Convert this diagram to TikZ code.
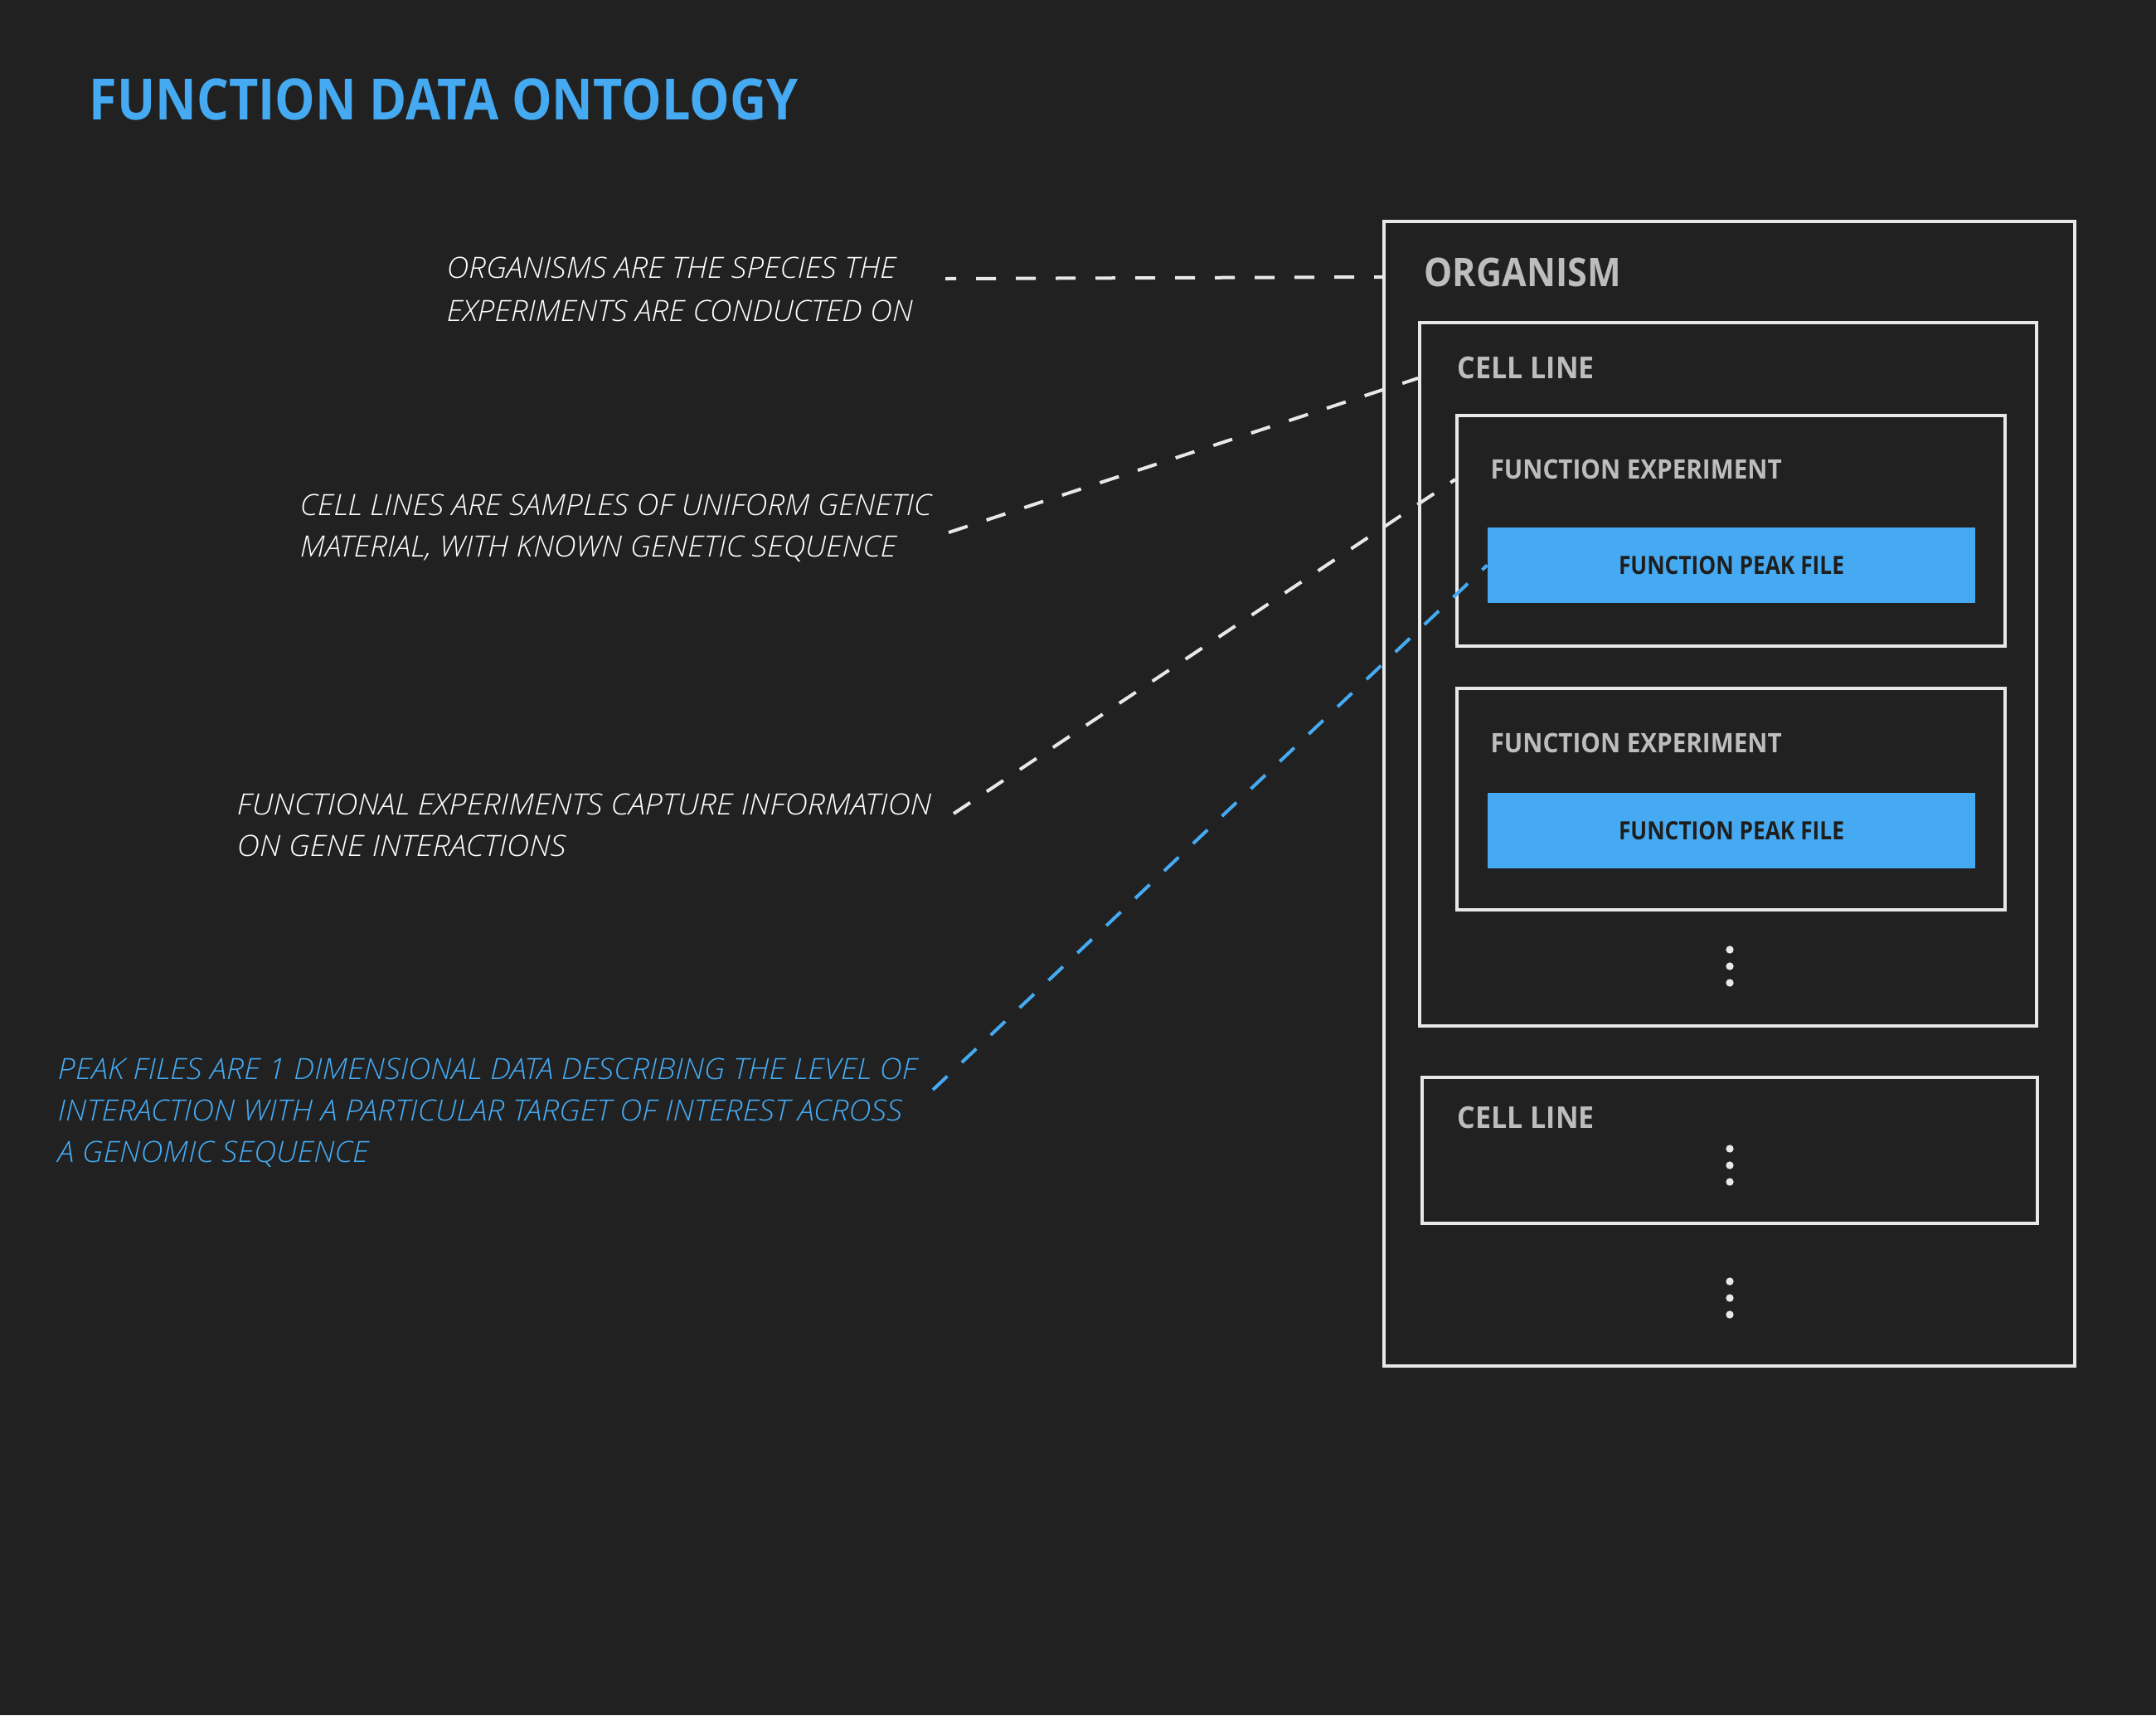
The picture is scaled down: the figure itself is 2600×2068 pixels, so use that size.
\documentclass[tikz,border=0pt]{standalone}
\usepackage{fontspec}
\usepackage{graphicx}
\setmainfont{Open Sans}
\newfontfamily\descfont{Open Sans}[ItalicFont={Open Sans Light Italic}]
\usetikzlibrary{fit,calc}
\definecolor{bgc}{HTML}{212121}
\definecolor{linec}{HTML}{E8E8E8}
\definecolor{lblc}{HTML}{BDBDBD}
\definecolor{txtc}{HTML}{FFFFFF}
\definecolor{bluec}{HTML}{45AAF2}
\definecolor{darkc}{HTML}{1E1E1E}
\newsavebox\fitbox
\newlength\fitl
\newcommand\fitw[2]{\sbox\fitbox{#2}\fitl=\wd\fitbox\pgfmathsetmacro\fitf{#1*0.3/\fitl}\scalebox{\fitf}[1]{\usebox\fitbox}}
\tikzset{
  boxs/.style={draw=linec, line width=1.2pt, inner sep=0pt},
  peaks/.style={fill=bluec, inner sep=0pt},
  desc/.style={anchor=base west, inner sep=0pt, text=txtc},
  lbl/.style={anchor=base west, inner sep=0pt, text=lblc},
  conn/.style={line width=1.2pt, dash pattern=on 7.2pt off 7.2pt},
}
\begin{document}
\begin{tikzpicture}[x=0.3pt, y=-0.3pt]
\useasboundingbox (0,0) rectangle (2600,2068);
\fill[bgc] (0,0) rectangle (2600,2068);

% title
\node[anchor=base west, inner sep=0pt, text=bluec, font=\fontsize{20.6}{24}\selectfont\bfseries] (title) at (107,144) {\fitw{855}{FUNCTION DATA ONTOLOGY}};

% boxes
\node[boxs, fit={(1669,267) (2502,1647)}] (org) {};
\node[boxs, fit={(1712,389) (2456,1237)}] (cl1) {};
\node[boxs, fit={(1757,501) (2418,779)}] (fe1) {};
\node[boxs, fit={(1757,830) (2418,1097)}] (fe2) {};
\node[boxs, fit={(1715,1299) (2457,1475)}] (cl2) {};
\node[peaks, fit={(1794,636) (2382,727)}] (pk1) {};
\node[peaks, fit={(1794,956) (2382,1047)}] (pk2) {};

% box labels
\node[lbl, font=\fontsize{14.3}{17}\selectfont\bfseries] (orgl) at (1717,345) {\fitw{237}{ORGANISM}};
\node[lbl, font=\fontsize{10.9}{13}\selectfont\bfseries] (cl1l) at (1757,456) {\fitw{165}{CELL LINE}};
\node[lbl, font=\fontsize{9.7}{12}\selectfont\bfseries] (fe1l) at (1797,577) {\fitw{351}{FUNCTION EXPERIMENT}};
\node[lbl, font=\fontsize{9.7}{12}\selectfont\bfseries] (fe2l) at (1797,907) {\fitw{351}{FUNCTION EXPERIMENT}};
\node[lbl, font=\fontsize{10.9}{13}\selectfont\bfseries] (cl2l) at (1757,1360) {\fitw{165}{CELL LINE}};
\node[inner sep=0pt, text=darkc, font=\fontsize{9.1}{11}\selectfont\bfseries] (pk1l) at (pk1.center) {\fitw{272}{FUNCTION PEAK FILE}};
\node[inner sep=0pt, text=darkc, font=\fontsize{9.1}{11}\selectfont\bfseries] (pk2l) at (pk2.center) {\fitw{272}{FUNCTION PEAK FILE}};

% ellipses
\foreach \yy in {1145,1165,1185,1385,1405,1425,1545,1565,1585}
  \fill[linec] (2086,\yy) circle[radius=1.4pt];

% descriptions
\node[desc, font=\descfont\fontsize{10.6}{15.6}\selectfont\itshape] (d1) at (538,335) {\fitw{562}{\begin{tabular}[t]{@{}l@{}}ORGANISMS ARE THE SPECIES THE\\EXPERIMENTS ARE CONDUCTED ON\end{tabular}}};
\node[desc, font=\descfont\fontsize{10.6}{15}\selectfont\itshape] (d2) at (361,621) {\fitw{761.5}{\begin{tabular}[t]{@{}l@{}}CELL LINES ARE SAMPLES OF UNIFORM GENETIC\\MATERIAL, WITH KNOWN GENETIC SEQUENCE\end{tabular}}};
\node[desc, font=\descfont\fontsize{10.6}{15}\selectfont\itshape] (d3) at (285,982) {\fitw{837.5}{\begin{tabular}[t]{@{}l@{}}FUNCTIONAL EXPERIMENTS CAPTURE INFORMATION\\ON GENE INTERACTIONS\end{tabular}}};
\node[desc, text=bluec, font=\descfont\fontsize{10.6}{15}\selectfont\itshape] (d4) at (69,1301) {\fitw{1036}{\begin{tabular}[t]{@{}l@{}}PEAK FILES ARE 1 DIMENSIONAL DATA DESCRIBING THE LEVEL OF\\INTERACTION WITH A PARTICULAR TARGET OF INTEREST ACROSS\\A GENOMIC SEQUENCE\end{tabular}}};

% connectors
\coordinate (c1) at (1140,336);
\coordinate (c2) at (1144,642);
\coordinate (c3) at (1150,981);
\coordinate (c4) at (1125,1314);
\draw[conn, draw=linec, dash phase=3.3pt] (c1) -- ($(org.north west)+(0,69)$);
\draw[conn, draw=linec] (c2) -- ($(cl1.north west)+(0,69)$);
\draw[conn, draw=linec] (c3) -- ($(fe1.north west)+(0,79)$);
\draw[conn, draw=bluec] (c4) -- (pk1.west);
\end{tikzpicture}
\end{document}
